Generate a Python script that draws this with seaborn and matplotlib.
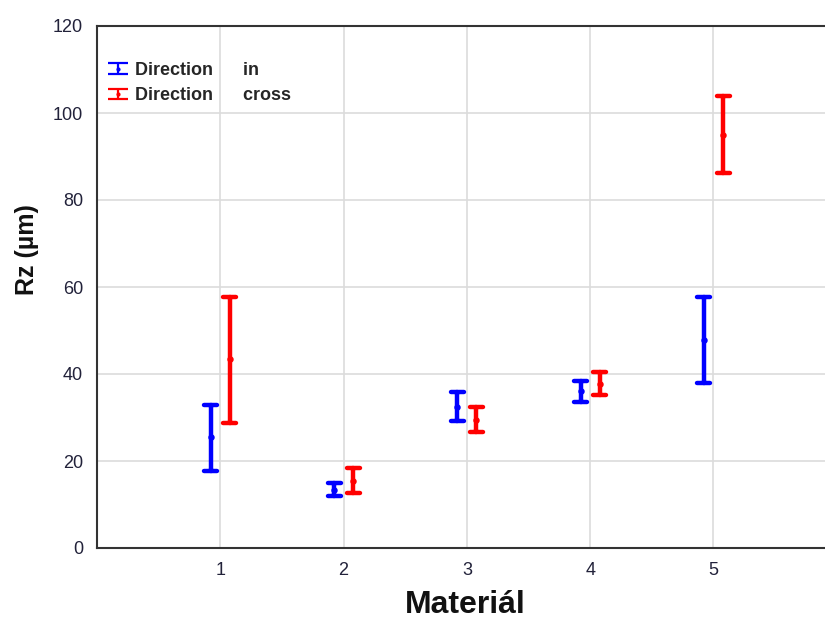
import numpy as np
import pandas as pd
import matplotlib
matplotlib.use("Agg")
import matplotlib.pyplot as plt
import seaborn as sns
from matplotlib.container import ErrorbarContainer
from matplotlib.legend_handler import HandlerErrorbar

# ---- data ----
materials = [1, 2, 3, 4, 5]
in_mean = [25.5, 13.4, 32.5, 36.0, 47.8]
in_low = [17.7, 11.9, 29.2, 33.6, 37.9]
in_high = [32.9, 14.9, 35.9, 38.4, 57.7]
cross_mean = [43.4, 15.5, 29.5, 37.8, 95.0]
cross_low = [28.7, 12.6, 26.7, 35.2, 86.2]
cross_high = [57.7, 18.4, 32.4, 40.5, 103.9]
series_labels = ["Direction      in", "Direction      cross"]
colors = ["#0000ff", "#ff0000"]

rows = []
for lab, m, lo, hi in [(series_labels[0], in_mean, in_low, in_high),
                       (series_labels[1], cross_mean, cross_low, cross_high)]:
    for x, a, b, c in zip(materials, m, lo, hi):
        for v in (b, a, c):
            rows.append({"Material": x, "Rz": v, "Direction": lab})
df = pd.DataFrame(rows)

sns.set_theme(style="whitegrid")
plt.rcParams["font.family"] = ["Liberation Sans", "DejaVu Sans"]

fig = plt.figure(figsize=(8.25, 6.21), dpi=100)
ax_left = 97 / 825
ax_bottom = (621 - 548) / 621
ax_h = 522 / 621
ax_wpx = 6 * 123.3
ax = fig.add_axes([ax_left, ax_bottom, ax_wpx / 825, ax_h])

sns.pointplot(data=df, x="Material", y="Rz", hue="Direction",
              hue_order=series_labels, palette=colors,
              estimator="median", errorbar=lambda v: (v.min(), v.max()),
              native_scale=True, dodge=0.155, linestyle="none",
              markers="o", markersize=2.6, capsize=0.105,
              err_kws={"linewidth": 3.2}, legend=False, ax=ax)

ax.set_xlim(0, 6)
ax.set_ylim(0, 120)
ax.set_xticks(materials)
ax.set_xticklabels([str(m) for m in materials])
ax.set_yticks([0, 20, 40, 60, 80, 100, 120])

ax.grid(True, color="#dcdcdc", linewidth=1.2)
ax.set_axisbelow(True)
for s in ax.spines.values():
    s.set_color("#333333")
    s.set_linewidth(1.5)
ax.tick_params(axis="both", direction="in", length=4, width=1.5, color="#222222",
               labelsize=13, labelcolor="#22223a")
ax.tick_params(axis="x", pad=10)
ax.tick_params(axis="y", pad=10)

ax.set_xlabel("Materiál", fontsize=23, fontweight="bold", color="#111111")
ax.xaxis.label.set_va("bottom")
ax.xaxis.set_label_coords((465 - 97) / ax_wpx, -(620 - 548) / 522)

ax.set_ylabel("Rz (µm)", fontsize=18, fontweight="bold", color="#111111")
ax.yaxis.label.set_va("center")
ax.yaxis.set_label_coords((27 - 97) / ax_wpx, (548 - 250) / 522)

# legend proxies (errorbar glyphs)
handles = []
for lab, col in zip(series_labels, colors):
    h = ax.errorbar([np.nan], [np.nan], yerr=[[np.nan], [np.nan]], fmt="o",
                    color=col, ecolor=col, markersize=2, elinewidth=1.6,
                    capsize=7, capthick=1.6, label=lab)
    handles.append(h)
leg = ax.legend(handles=handles, labels=series_labels, loc="upper left",
                bbox_to_anchor=(-0.004, 0.955), frameon=False,
                prop={"size": 13, "weight": "bold"},
                handlelength=1.3, handletextpad=0.25, labelspacing=0.45,
                borderaxespad=0.3,
                handler_map={ErrorbarContainer: HandlerErrorbar(yerr_size=0.3)})

fig.savefig("out.png", dpi=100)
